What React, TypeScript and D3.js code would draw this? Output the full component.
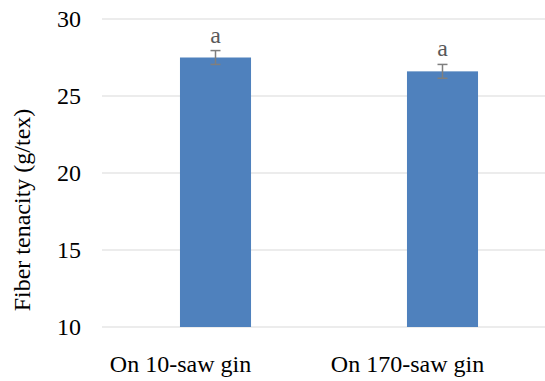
import React, { useEffect, useRef } from "react";
import * as d3 from "d3";

const categories = ["On 10-saw gin", "On 170-saw gin"];
const tenacity = [27.5, 26.6];
const errors = [0.45, 0.45];
const letters = ["a", "a"];
const yTicks = [10, 15, 20, 25, 30];

const App = () => {
  const svgRef = useRef<SVGSVGElement>(null);

  useEffect(() => {
    const svg = d3.select(svgRef.current);
    svg.selectAll("*").remove();

    const width = 545;
    const font = "'Liberation Serif', 'Times New Roman', serif";
    const fs = 24;

    const x = d3.scaleBand().domain(categories).range([102, 556]).paddingInner(0.687).paddingOuter(0.3435);
    const y = d3.scaleLinear().domain([10, 30]).range([327, 19]);

    // gridlines
    svg
      .append("g")
      .selectAll("line")
      .data(yTicks)
      .enter()
      .append("line")
      .attr("x1", 102)
      .attr("x2", width)
      .attr("y1", (d) => y(d))
      .attr("y2", (d) => y(d))
      .attr("stroke", "#d9d9d9")
      .attr("stroke-width", 1);

    // tick labels
    svg
      .append("g")
      .selectAll("text")
      .data(yTicks)
      .enter()
      .append("text")
      .attr("x", 81)
      .attr("y", (d) => y(d))
      .attr("dy", "0.35em")
      .attr("text-anchor", "end")
      .attr("font-family", font)
      .attr("font-size", fs)
      .attr("fill", "#000")
      .text((d) => d);

    const data = categories.map((c, i) => ({ c, v: tenacity[i], e: errors[i], l: letters[i] }));

    // bars
    svg
      .append("g")
      .selectAll("rect")
      .data(data)
      .enter()
      .append("rect")
      .attr("x", (d) => x(d.c)!)
      .attr("y", (d) => y(d.v))
      .attr("width", x.bandwidth())
      .attr("height", (d) => y(10) - y(d.v))
      .attr("fill", "#4f81bd");

    // error bars
    const eb = svg.append("g").attr("stroke", "#7f7f7f").attr("stroke-width", 1.5);
    data.forEach((d) => {
      const cx = x(d.c)! + x.bandwidth() / 2;
      eb.append("line").attr("x1", cx).attr("x2", cx).attr("y1", y(d.v + d.e)).attr("y2", y(d.v - d.e));
      eb.append("line").attr("x1", cx - 5).attr("x2", cx + 5).attr("y1", y(d.v + d.e)).attr("y2", y(d.v + d.e));
      eb.append("line").attr("x1", cx - 5).attr("x2", cx + 5).attr("y1", y(d.v - d.e)).attr("y2", y(d.v - d.e));
    });

    // significance letters
    svg
      .append("g")
      .selectAll("text")
      .data(data)
      .enter()
      .append("text")
      .attr("x", (d) => x(d.c)! + x.bandwidth() / 2)
      .attr("y", (d) => y(d.v + d.e) - 8)
      .attr("text-anchor", "middle")
      .attr("font-family", font)
      .attr("font-size", fs)
      .attr("fill", "#595959")
      .text((d) => d.l);

    // category labels (sit a bit left of the bars in the original)
    svg
      .append("g")
      .selectAll("text")
      .data(categories)
      .enter()
      .append("text")
      .attr("x", (d) => x(d)! + x.bandwidth() / 2 - 35)
      .attr("y", 372)
      .attr("text-anchor", "middle")
      .attr("font-family", font)
      .attr("font-size", fs)
      .attr("fill", "#000")
      .text((d) => d);

    // axis title
    svg
      .append("text")
      .attr("transform", "translate(30,210) rotate(-90)")
      .attr("text-anchor", "middle")
      .attr("font-family", font)
      .attr("font-size", fs)
      .attr("fill", "#000")
      .text("Fiber tenacity (g/tex)");
  }, []);

  return (
    <svg
      ref={svgRef}
      width="545"
      height="381"
      style={{ position: "absolute", left: 0, top: 0, background: "#fff" }}
    ></svg>
  );
};

export default App;
